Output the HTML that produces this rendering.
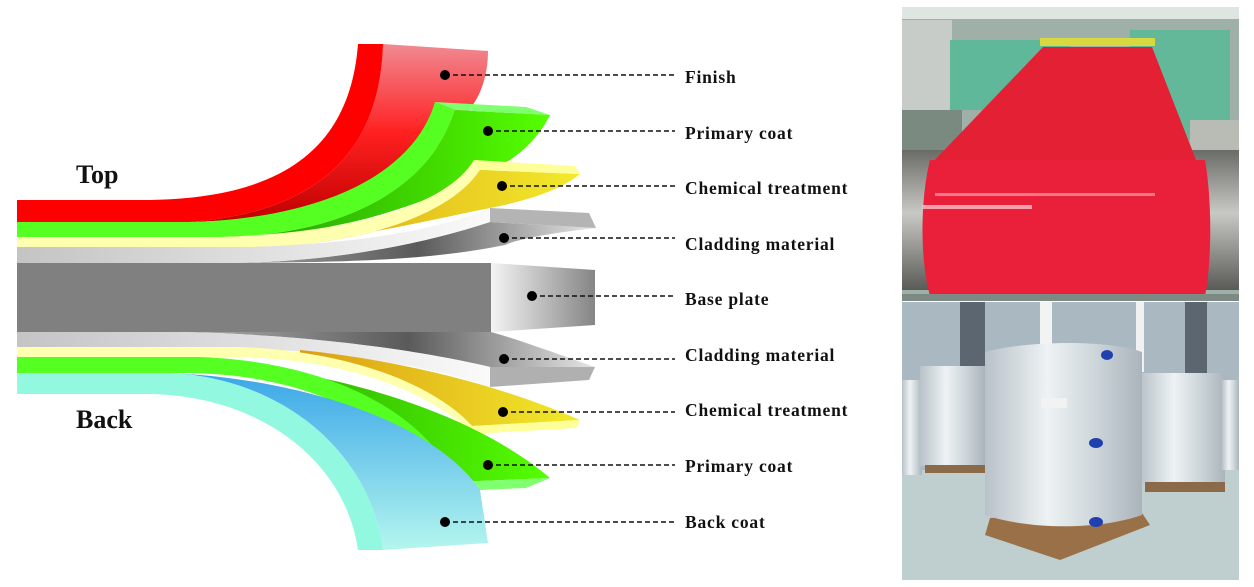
<!DOCTYPE html>
<html><head><meta charset="utf-8"><style>
html,body{margin:0;padding:0;background:#fff;width:1254px;height:587px;overflow:hidden}
svg text{font-family:"Liberation Serif",serif;font-weight:bold;fill:#111}
</style></head><body>
<svg width="1254" height="587" viewBox="0 0 1254 587" xmlns="http://www.w3.org/2000/svg">
<defs>
<linearGradient id="rs" x1="0" y1="0" x2="0" y2="1"><stop offset="0" stop-color="#f08a92"/><stop offset="0.5" stop-color="#ff2020"/><stop offset="1" stop-color="#c00000"/></linearGradient>
<linearGradient id="gs" x1="0" y1="0" x2="1" y2="0"><stop offset="0" stop-color="#1f9a00"/><stop offset="1" stop-color="#55ff00"/></linearGradient>
<linearGradient id="ys" x1="0" y1="0" x2="1" y2="0"><stop offset="0" stop-color="#dc9e14"/><stop offset="1" stop-color="#f2ea2a"/></linearGradient>
<linearGradient id="gb" x1="0" y1="0" x2="1" y2="0"><stop offset="0" stop-color="#c4c4c4"/><stop offset="1" stop-color="#fafafa"/></linearGradient>
<linearGradient id="gd" x1="0" y1="0" x2="1" y2="0"><stop offset="0" stop-color="#b0b0b0"/><stop offset="0.55" stop-color="#5a5a5a"/><stop offset="1" stop-color="#e6e6e6"/></linearGradient>
<linearGradient id="bp" x1="0" y1="0" x2="1" y2="0"><stop offset="0" stop-color="#f4f4f4"/><stop offset="1" stop-color="#858585"/></linearGradient>
<linearGradient id="cs" x1="0" y1="0" x2="0" y2="1"><stop offset="0" stop-color="#3aa6e8"/><stop offset="1" stop-color="#b4f6ee"/></linearGradient>
<linearGradient id="roll" x1="0" y1="0" x2="0" y2="1"><stop offset="0" stop-color="#6a6a66"/><stop offset="0.45" stop-color="#c8c8c4"/><stop offset="1" stop-color="#5a5a56"/></linearGradient>
<linearGradient id="coil" x1="0" y1="0" x2="1" y2="0"><stop offset="0" stop-color="#b8c2c8"/><stop offset="0.4" stop-color="#eef2f4"/><stop offset="0.7" stop-color="#cdd6da"/><stop offset="1" stop-color="#aab4ba"/></linearGradient>
</defs>

<path d="M383,44 L488,51 C488,70 483,90 474,103 C430,180 320,220 190,222 C320,212 380,150 383,44 Z" fill="url(#rs)"/>
<path d="M17,200 L150,200 C280,198 350,150 358,44 L383,44 C380,150 320,212 190,222 L17,222 Z" fill="#ff0000"/>
<path d="M455,110 L550,115 C540,135 525,150 510,160 C420,210 330,236 220,237 C340,236 430,190 455,110 Z" fill="url(#gs)"/>
<path d="M17,222 L190,222 C330,218 415,170 435,102 L455,110 C430,190 340,236 220,237 L17,237 Z" fill="#55ff22"/>
<path d="M435,102 L526,107 L550,115 L455,110 Z" fill="#80ff70"/>
<path d="M480,170 L580,174 C560,190 530,200 490,208 C420,222 350,240 250,247 C360,246 450,215 480,170 Z" fill="url(#ys)"/>
<path d="M17,237 L220,237 C370,232 450,200 474,160 L480,170 C450,215 360,246 250,247 L17,247 Z" fill="#ffffb0"/>
<path d="M474,160 L575,166 L580,174 L480,170 Z" fill="#ffff99"/>
<path d="M490,222 L596,228 C560,232 520,238 505,245 C430,260 350,263 200,263 L230,263 C330,262 420,245 490,222 Z" fill="url(#gd)"/>
<path d="M17,247 L250,247 C380,243 450,225 490,208 L490,222 C420,245 330,262 230,263 L17,263 Z" fill="url(#gb)"/>
<path d="M490,208 L589,213 L596,228 L490,222 Z" fill="#b4b4b4"/>
<rect x="17" y="263" width="474" height="69" fill="#808080"/>
<path d="M491,263 L595,270 L595,325 L491,332 Z" fill="url(#bp)"/>
<path d="M180,332 L491,332 C520,340 560,355 595,367 L490,367 C440,355 330,335 180,332 Z" fill="url(#gd)"/>
<path d="M17,332 L180,332 C330,335 440,355 490,367 L490,387 C430,365 320,348 200,347 L17,347 Z" fill="url(#gb)"/>
<path d="M490,367 L595,367 L589,380 L490,387 Z" fill="#b0b0b0"/>
<path d="M300,350 C400,360 500,385 580,420 L472,426 C440,395 380,365 300,357 Z" fill="url(#ys)"/>
<path d="M17,347 L240,347 C370,352 445,395 472,426 L472,434 C440,400 360,358 230,357 L17,357 Z" fill="#ffffb0"/>
<path d="M472,426 L580,420 L577,428 L472,434 Z" fill="#ffff99"/>
<path d="M200,360 C330,370 470,410 550,478 L455,482 C430,420 340,365 200,360 Z" fill="url(#gs)"/>
<path d="M17,357 L200,357 C340,362 430,420 455,482 L435,492 C410,430 320,375 190,373 L17,373 Z" fill="#55ff22"/>
<path d="M455,482 L550,478 L526,488 L435,492 Z" fill="#80ff70"/>
<path d="M170,373 C320,380 440,430 480,490 L488,543 L383,550 C370,450 280,378 170,373 Z" fill="url(#cs)"/>
<path d="M17,373 L170,373 C280,378 370,450 383,550 L358,550 C345,460 260,396 150,394 L17,394 Z" fill="#92f8e0"/>

<text x="76" y="183" font-size="26">Top</text>
<text x="76" y="428" font-size="26">Back</text>

<g stroke="#111" stroke-width="1.5" stroke-dasharray="5,3">
<line x1="445" y1="75" x2="675" y2="75"/>
<line x1="488" y1="131" x2="675" y2="131"/>
<line x1="502" y1="186" x2="675" y2="186"/>
<line x1="504" y1="238" x2="675" y2="238"/>
<line x1="532" y1="296" x2="675" y2="296"/>
<line x1="504" y1="359" x2="675" y2="359"/>
<line x1="503" y1="412" x2="675" y2="412"/>
<line x1="488" y1="465" x2="675" y2="465"/>
<line x1="445" y1="522" x2="675" y2="522"/>
</g>
<g fill="#000">
<circle cx="445" cy="75" r="5"/><circle cx="488" cy="131" r="5"/><circle cx="502" cy="186" r="5"/>
<circle cx="504" cy="238" r="5"/><circle cx="532" cy="296" r="5"/><circle cx="504" cy="359" r="5"/>
<circle cx="503" cy="412" r="5"/><circle cx="488" cy="465" r="5"/><circle cx="445" cy="522" r="5"/>
</g>
<g font-size="17.5" letter-spacing="0.8">
<text x="685" y="83">Finish</text>
<text x="685" y="139">Primary coat</text>
<text x="685" y="194">Chemical treatment</text>
<text x="685" y="250">Cladding material</text>
<text x="685" y="305">Base plate</text>
<text x="685" y="361">Cladding material</text>
<text x="685" y="416">Chemical treatment</text>
<text x="685" y="472">Primary coat</text>
<text x="685" y="528">Back coat</text>
</g>

<rect x="902" y="7" width="337" height="294" fill="#9fb0a8"/>
<rect x="902" y="7" width="337" height="12" fill="#dfe6e2"/>
<rect x="902" y="20" width="50" height="110" fill="#c8ccc8"/>
<rect x="950" y="40" width="120" height="70" fill="#5fb89a"/>
<rect x="1130" y="30" width="100" height="110" fill="#62b898"/>
<rect x="1040" y="38" width="115" height="8" fill="#d8d840"/>
<rect x="902" y="110" width="60" height="50" fill="#7a8a80"/>
<rect x="1190" y="120" width="49" height="40" fill="#b8bcb4"/>
<rect x="902" y="150" width="337" height="140" fill="url(#roll)"/>
<path d="M1043,47 L1152,47 L1198,165 L930,165 Z" fill="#e42034"/>
<path d="M930,160 L1205,160 C1212,200 1212,260 1205,296 L930,296 C920,260 920,200 930,160 Z" fill="#ea1f3a"/>
<rect x="935" y="193" width="220" height="3" fill="#f5a0aa" opacity="0.7"/>
<rect x="922" y="205" width="110" height="4" fill="#f8c0c8" opacity="0.8"/>
<rect x="902" y="294" width="337" height="7" fill="#7d8a84"/>

<rect x="902" y="302" width="337" height="278" fill="#aab8c2"/>
<rect x="1040" y="302" width="12" height="70" fill="#f2f4f4"/>
<rect x="1136" y="302" width="8" height="70" fill="#f0f2f2"/>
<rect x="960" y="302" width="25" height="120" fill="#5c6670"/>
<rect x="1185" y="302" width="22" height="120" fill="#5c6670"/>
<rect x="902" y="470" width="337" height="110" fill="#bfcfcf"/>
<rect x="902" y="380" width="20" height="95" fill="url(#coil)"/>
<rect x="920" y="366" width="65" height="100" fill="url(#coil)"/>
<rect x="925" y="465" width="60" height="8" fill="#8a6a48"/>
<rect x="1140" y="373" width="85" height="110" fill="url(#coil)"/>
<rect x="1145" y="482" width="80" height="10" fill="#8a6a48"/>
<rect x="1222" y="380" width="17" height="90" fill="url(#coil)"/>
<path d="M990,518 L1140,510 L1150,525 L1060,560 L985,535 Z" fill="#9a7048"/>
<path d="M985,352 C1030,340 1110,340 1142,352 L1142,515 C1100,530 1030,530 985,515 Z" fill="url(#coil)"/>
<ellipse cx="1107" cy="355" rx="6" ry="5" fill="#2040b0"/>
<ellipse cx="1096" cy="443" rx="7" ry="5" fill="#2040b0"/>
<ellipse cx="1096" cy="522" rx="7" ry="5" fill="#2040b0"/>
<rect x="1041" y="398" width="26" height="10" fill="#f2f2f2"/>
</svg>
</body></html>
